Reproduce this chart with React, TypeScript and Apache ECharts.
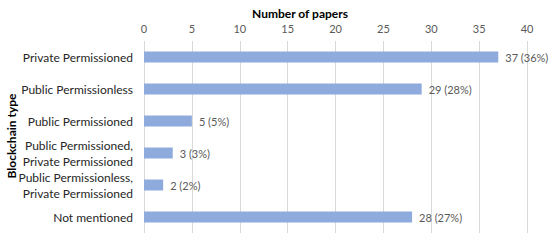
import React, { useEffect, useRef } from "react";
import * as echarts from "echarts";

const categories = [
  "Private Permissioned",
  "Public Permissionless",
  "Public Permissioned",
  "Public Permissioned,\nPrivate Permissioned",
  "Public Permissionless,\nPrivate Permissioned",
  "Not mentioned",
];
const counts = [37, 29, 5, 3, 2, 28];
const percents = [36, 28, 5, 3, 2, 27];
const xTicks = [0, 5, 10, 15, 20, 25, 30, 35, 40];

const FONT = "Lato, 'Open Sans', sans-serif";

export default function App() {
  const ref = useRef<HTMLDivElement>(null);
  useEffect(() => {
    if (!ref.current) return;
    const chart = echarts.init(ref.current, null, { renderer: "svg" });
    chart.setOption({
      animation: false,
      grid: { left: 144, right: 23, top: 41, bottom: 7, containLabel: false, outerBoundsMode: "none" },
      xAxis: {
        type: "value",
        position: "top",
        min: xTicks[0],
        max: xTicks[xTicks.length - 1],
        interval: 5,
        axisLine: { show: false },
        axisTick: { show: false },
        axisLabel: { color: "#595959", fontSize: 11, fontFamily: FONT, margin: 7 },
        splitLine: { show: true, lineStyle: { color: "#d9d9d9", width: 1 } },
      },
      yAxis: {
        type: "category",
        data: categories,
        inverse: true,
        axisLine: { show: false },
        axisTick: { show: false },
        axisLabel: {
          color: "#262626",
          fontSize: 12,
          fontFamily: FONT,
          margin: 11,
          align: "right",
          lineHeight: 16,
        },
      },
      series: [
        {
          type: "bar",
          data: counts,
          barWidth: 11,
          itemStyle: { color: "#8faadc" },
          label: {
            show: true,
            position: "right",
            distance: 7,
            color: "#595959",
            fontSize: 11,
            fontFamily: FONT,
            formatter: (p: any) => `${counts[p.dataIndex]} (${percents[p.dataIndex]}%)`,
          },
        },
      ],
      graphic: [
        {
          type: "text",
          x: 300,
          y: 7,
          style: {
            text: "Number of papers",
            textAlign: "center",
            fill: "#000",
            font: `bold 12px ${FONT}`,
          },
        },
        {
          type: "text",
          x: 11,
          y: 136,
          rotation: Math.PI / 2,
          style: {
            text: "Blockchain type",
            textAlign: "center",
            textVerticalAlign: "middle",
            fill: "#000",
            font: `bold 12px ${FONT}`,
          },
        },
      ],
    });
    return () => chart.dispose();
  }, []);
  return <div ref={ref} style={{ width: 550, height: 240, position: "absolute", left: 0, top: 0 }} />;
}
